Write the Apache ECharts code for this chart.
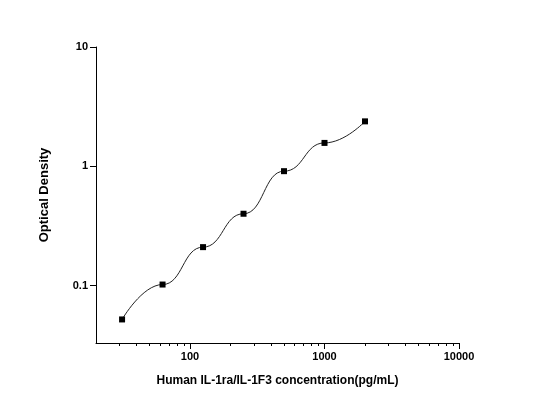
<!DOCTYPE html>
<html>
<head>
<meta charset="utf-8">
<script src="https://cdn.jsdelivr.net/npm/echarts@6/dist/echarts.min.js"></script>
<style>
  html, body { margin: 0; padding: 0; background: #fff; }
  #chart { width: 533px; height: 412px; }
</style>
</head>
<body>
<div id="chart"></div>
<script>
// standard curve points
var concentration = [31.25, 62.5, 125, 250, 500, 1000, 2000];
var density = [0.052, 0.102, 0.21, 0.40, 0.91, 1.57, 2.38];

var xMajorTicks = [100, 1000, 10000];
var xMinorTicks = [30, 40, 50, 60, 70, 80, 90, 200, 300, 400, 500, 600, 700, 800, 900,
                   2000, 3000, 4000, 5000, 6000, 7000, 8000, 9000];
var yMajorTicks = [0.1, 1, 10];

var xMin = 20, xMax = 10000;
var yMin = 0.033, yMax = 10;

function lg(v) { return Math.log10(v); }

function fmt(v) {
    var p = Math.pow(10, v);
    if (p < 1) return String(Math.round(p * 10) / 10);
    return String(Math.round(p));
}

var points = [];
for (var i = 0; i < concentration.length; i++) {
    points.push([lg(concentration[i]), lg(density[i])]);
}

var font = 'Arial, "Liberation Sans", sans-serif';
var chart = echarts.init(document.getElementById('chart'));

chart.setOption({
    animation: false,
    grid: { left: 96, right: 74, top: 47, bottom: 69 },
    xAxis: [
        {
            type: 'value',
            min: lg(xMin),
            max: lg(xMax),
            name: 'Human IL-1ra/IL-1F3 concentration(pg/mL)',
            nameLocation: 'middle',
            nameGap: 32,
            nameTextStyle: { fontFamily: font, fontWeight: 'bold', fontSize: 12, color: '#000' },
            axisLine: { onZero: false, lineStyle: { color: '#000', width: 1 } },
            axisTick: { length: 6, lineStyle: { color: '#000' }, customValues: xMajorTicks.map(lg) },
            axisLabel: {
                customValues: xMajorTicks.map(lg),
                formatter: fmt,
                fontFamily: font, fontSize: 11, color: '#000', fontWeight: 'bold', margin: 8
            },
            splitLine: { show: false }
        },
        {
            type: 'value',
            position: 'bottom',
            min: lg(xMin),
            max: lg(xMax),
            axisLine: { show: false, onZero: false },
            axisTick: { length: 3, lineStyle: { color: '#000' }, customValues: xMinorTicks.map(lg) },
            axisLabel: { show: false },
            splitLine: { show: false }
        }
    ],
    yAxis: {
        type: 'value',
        min: lg(yMin),
        max: lg(yMax),
        name: 'Optical Density',
        nameLocation: 'middle',
        nameGap: 45,
        nameTextStyle: { fontFamily: font, fontWeight: 'bold', fontSize: 13, color: '#000' },
        axisLine: { show: true, onZero: false, lineStyle: { color: '#000', width: 1 } },
        axisTick: { show: true, length: 6, lineStyle: { color: '#000' }, customValues: yMajorTicks.map(lg) },
        axisLabel: {
            customValues: yMajorTicks.map(lg),
            formatter: fmt,
            fontFamily: font, fontSize: 11, color: '#000', fontWeight: 'bold', margin: 8
        },
        splitLine: { show: false }
    },
    series: [{
        type: 'line',
        data: points,
        smooth: 0.5,
        smoothMonotone: 'x',
        symbol: 'rect',
        symbolSize: 6,
        itemStyle: { color: '#000' },
        lineStyle: { color: '#222', width: 1 }
    }]
});
</script>
</body>
</html>
